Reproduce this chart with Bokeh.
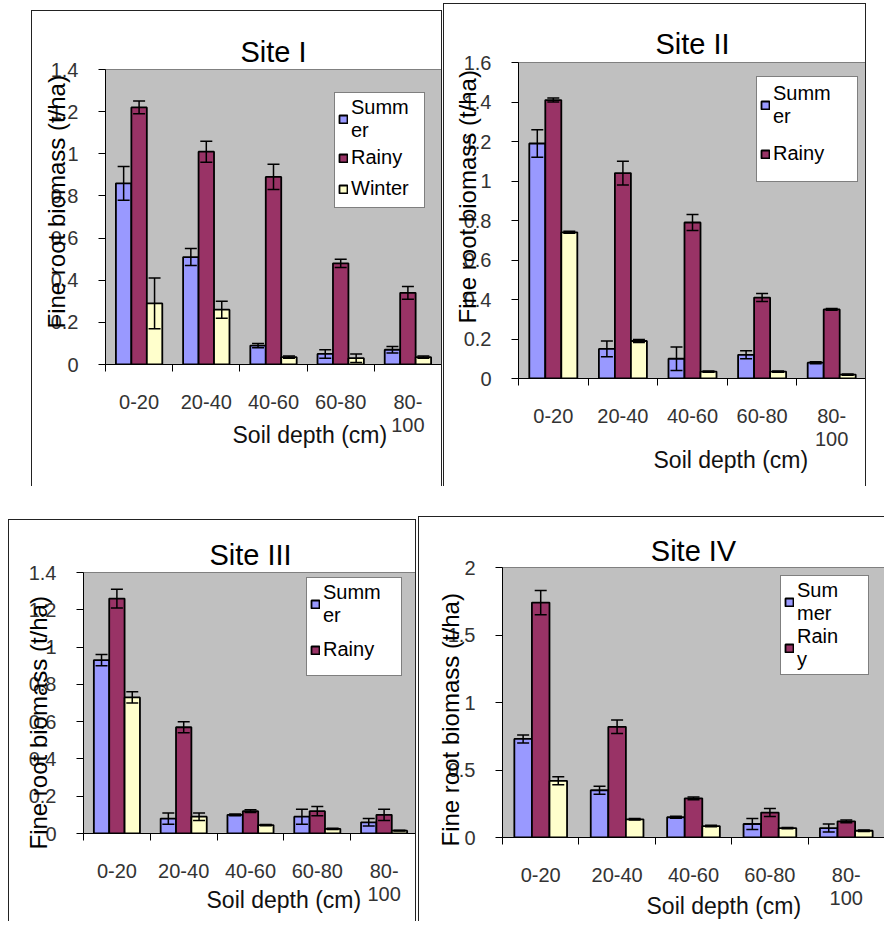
from bokeh.plotting import figure
from bokeh.models import (ColumnDataSource, FixedTicker, Whisker, TeeHead, Legend,
                          LegendItem, Title, Range1d, Spacer)
from bokeh.layouts import row, column
from bokeh.embed import file_html
from bokeh.resources import INLINE

FONT = "Liberation Sans"

depths = ["0-20", "20-40", "40-60", "60-80", "80-\n100"]
seasons = ["Summer", "Rainy", "Winter"]
colors = ["#9999FF", "#993366", "#FFFFCC"]

# Site I
s1_summer = [0.86, 0.51, 0.09, 0.05, 0.07]
s1_summer_err = [0.08, 0.04, 0.01, 0.02, 0.015]
s1_rainy = [1.22, 1.01, 0.89, 0.48, 0.34]
s1_rainy_err = [0.03, 0.05, 0.06, 0.02, 0.03]
s1_winter = [0.29, 0.26, 0.035, 0.03, 0.035]
s1_winter_err = [0.12, 0.04, 0.005, 0.02, 0.005]
s1_yticks = [0, 0.2, 0.4, 0.6, 0.8, 1, 1.2, 1.4]
s1_ylabels = ["0", "0.2", "0.4", "0.6", "0.8", "1", "1.2", "1.4"]

# Site II
s2_summer = [1.19, 0.15, 0.10, 0.12, 0.08]
s2_summer_err = [0.07, 0.04, 0.06, 0.02, 0.005]
s2_rainy = [1.41, 1.04, 0.79, 0.41, 0.35]
s2_rainy_err = [0.01, 0.06, 0.04, 0.02, 0.005]
s2_winter = [0.74, 0.19, 0.035, 0.035, 0.02]
s2_winter_err = [0.005, 0.008, 0.003, 0.003, 0.003]
s2_yticks = [0, 0.2, 0.4, 0.6, 0.8, 1, 1.2, 1.4, 1.6]
s2_ylabels = ["0", "0.2", "0.4", "0.6", "0.8", "1", "1.2", "1.4", "1.6"]

# Site III
s3_summer = [0.93, 0.08, 0.10, 0.09, 0.06]
s3_summer_err = [0.03, 0.03, 0.005, 0.04, 0.02]
s3_rainy = [1.26, 0.57, 0.12, 0.12, 0.10]
s3_rainy_err = [0.05, 0.03, 0.008, 0.025, 0.03]
s3_winter = [0.73, 0.09, 0.045, 0.025, 0.015]
s3_winter_err = [0.03, 0.02, 0.003, 0.003, 0.002]
s3_yticks = [0, 0.2, 0.4, 0.6, 0.8, 1, 1.2, 1.4]
s3_ylabels = ["0", "0.2", "0.4", "0.6", "0.8", "1", "1.2", "1.4"]

# Site IV
s4_summer = [0.73, 0.35, 0.15, 0.10, 0.07]
s4_summer_err = [0.03, 0.03, 0.008, 0.04, 0.03]
s4_rainy = [1.74, 0.82, 0.29, 0.185, 0.12]
s4_rainy_err = [0.09, 0.05, 0.01, 0.03, 0.01]
s4_winter = [0.42, 0.135, 0.085, 0.07, 0.05]
s4_winter_err = [0.03, 0.005, 0.005, 0.005, 0.005]
s4_yticks = [0, 0.5, 1, 1.5, 2]
s4_ylabels = ["0", "0.5", "1", "1.5", "2"]

y_title = "Fine root biomass (t/ha)"
x_title = "Soil depth (cm)"

BAR_W = 0.23


def make_panel(title, series, errs, yticks, ylabels, legend_labels, g):
    n = len(depths)
    p = figure(width=g["w"], height=g["h"], x_range=Range1d(0, n),
               y_range=Range1d(yticks[0], yticks[-1]),
               output_backend="svg", toolbar_location=None,
               min_border_left=g["l"], min_border_right=g["r"],
               min_border_top=g["t"], min_border_bottom=g["b"],
               background_fill_color="#C0C0C0", border_fill_color="white",
               outline_line_color="#808080", styles=g["css"])
    p.xgrid.visible = False
    p.ygrid.visible = False

    p.title.text = title
    p.title.align = "center"
    p.title.text_font = FONT
    p.title.text_font_size = "29px"
    p.title.text_font_style = "normal"
    p.title.text_color = "black"
    p.title.standoff = g["ts"]

    # x axis: labels at category centres, ticks at category boundaries
    centers = [i + 0.5 for i in range(n)]
    bounds = list(range(n + 1))
    p.xaxis.ticker = FixedTicker(ticks=centers, minor_ticks=bounds)
    p.xaxis.major_label_overrides = {c: d for c, d in zip(centers, depths)}
    p.xaxis.major_tick_out = 0
    p.xaxis.major_tick_in = 0
    p.xaxis.major_tick_line_color = None
    p.xaxis.minor_tick_out = 7
    p.xaxis.minor_tick_in = 0
    p.xaxis.minor_tick_line_color = "black"
    p.xaxis.major_label_standoff = 19
    p.xaxis.major_label_text_font = FONT
    p.xaxis.major_label_text_font_size = "20px"
    p.xaxis.major_label_text_line_height = 1.05
    p.xaxis.major_label_text_color = "#333333"
    p.xaxis.axis_line_color = "black"

    p.yaxis.ticker = FixedTicker(ticks=yticks, minor_ticks=[])
    p.yaxis.major_label_overrides = {t: s for t, s in zip(yticks, ylabels)}
    p.yaxis.major_tick_out = 7
    p.yaxis.major_tick_in = 0
    p.yaxis.minor_tick_line_color = None
    p.yaxis.major_label_standoff = 20
    p.yaxis.major_label_text_font = FONT
    p.yaxis.major_label_text_font_size = "20px"
    p.yaxis.major_label_text_color = "#333333"
    p.yaxis.axis_line_color = "black"

    renderers = []
    for k, (vals, err) in enumerate(zip(series, errs)):
        xs = [i + 0.5 + (k - 1) * BAR_W for i in range(n)]
        src = ColumnDataSource(dict(
            x=xs, top=vals,
            upper=[v + e for v, e in zip(vals, err)],
            lower=[v - e for v, e in zip(vals, err)]))
        r = p.vbar(x="x", top="top", bottom=0, width=BAR_W, source=src,
                   fill_color=colors[k], line_color="black", line_width=1.8)
        renderers.append(r)
        w = Whisker(base="x", upper="upper", lower="lower", source=src,
                    dimension="height", line_color="black", line_width=1.5,
                    upper_head=TeeHead(size=12, line_color="black", line_width=1.5),
                    lower_head=TeeHead(size=12, line_color="black", line_width=1.5),
                    level="overlay")
        p.add_layout(w)

    items = [LegendItem(label=lab, renderers=[renderers[k]])
             for k, lab in enumerate(legend_labels)]
    leg = Legend(items=items, location=g["leg"], margin=0, padding=3, spacing=0,
                 glyph_width=10, glyph_height=10, label_standoff=3,
                 label_height=g["lh"], label_width=g["lw"],
                 label_text_line_height=0.95,
                 label_text_font=FONT, label_text_font_size="20px",
                 label_text_color="black",
                 border_line_color="black", border_line_width=1,
                 background_fill_color="white", background_fill_alpha=1.0)
    p.add_layout(leg)

    yt = Title(text=y_title, align="left", offset=g["yo"], vertical_align="bottom",
               standoff=g["ys"], text_font=FONT, text_font_size="24px",
               text_font_style="normal", text_color="black")
    p.add_layout(yt, "left")
    xt = Title(text=x_title, align="left", offset=g["xo"], vertical_align="top",
               standoff=g["xs"], text_font=FONT, text_font_size="23px",
               text_font_style="normal", text_color="#111111")
    p.add_layout(xt, "below")
    return p


B = "1px solid #222222"

g1 = dict(w=411, h=476, l=73, r=2, t=58, b=123, ts=4,
          css={"border-top": B, "border-left": B, "border-right": B},
          leg=(229, 156), lh=31, lw=70, yo=36, ys=-44, xo=127, xs=-33)
g2 = dict(w=423, h=483, l=74, r=1, t=58, b=109, ts=6,
          css={"border-top": B, "border-left": B, "border-right": B},
          leg=(238, 196), lh=49, lw=81, yo=55, ys=-40, xo=135, xs=-12)
g3 = dict(w=408, h=402, l=74, r=0, t=52, b=89, ts=4,
          css={"border-top": B, "border-left": B, "border-right": B},
          leg=(223, 157), lh=45, lw=75, yo=-16, ys=-52, xo=123, xs=-41)
g4 = dict(w=466, h=405, l=83, r=1, t=50, b=85, ts=1,
          css={"border-top": B, "border-left": B},
          leg=(278, 162), lh=46, lw=68, yo=-9, ys=-38, xo=144, xs=-38)

p1 = make_panel("Site I", [s1_summer, s1_rainy, s1_winter],
                [s1_summer_err, s1_rainy_err, s1_winter_err],
                s1_yticks, s1_ylabels, ["Summ\ner", "Rainy", "Winter"], g1)
p2 = make_panel("Site II", [s2_summer, s2_rainy, s2_winter],
                [s2_summer_err, s2_rainy_err, s2_winter_err],
                s2_yticks, s2_ylabels, ["Summ\ner", "Rainy"], g2)
p3 = make_panel("Site III", [s3_summer, s3_rainy, s3_winter],
                [s3_summer_err, s3_rainy_err, s3_winter_err],
                s3_yticks, s3_ylabels, ["Summ\ner", "Rainy"], g3)
p4 = make_panel("Site IV", [s4_summer, s4_rainy, s4_winter],
                [s4_summer_err, s4_rainy_err, s4_winter_err],
                s4_yticks, s4_ylabels, ["Sum\nmer", "Rain\ny"], g4)

top = row(Spacer(width=31, height=10), column(Spacer(width=10, height=10), p1),
          Spacer(width=1, height=10), column(Spacer(width=10, height=3), p2))
bottom = row(Spacer(width=8, height=10), column(Spacer(width=10, height=3), p3),
             Spacer(width=2, height=10), p4)
layout = column(top, Spacer(width=10, height=30), bottom)

open("out.html", "w").write(file_html(layout, INLINE))
